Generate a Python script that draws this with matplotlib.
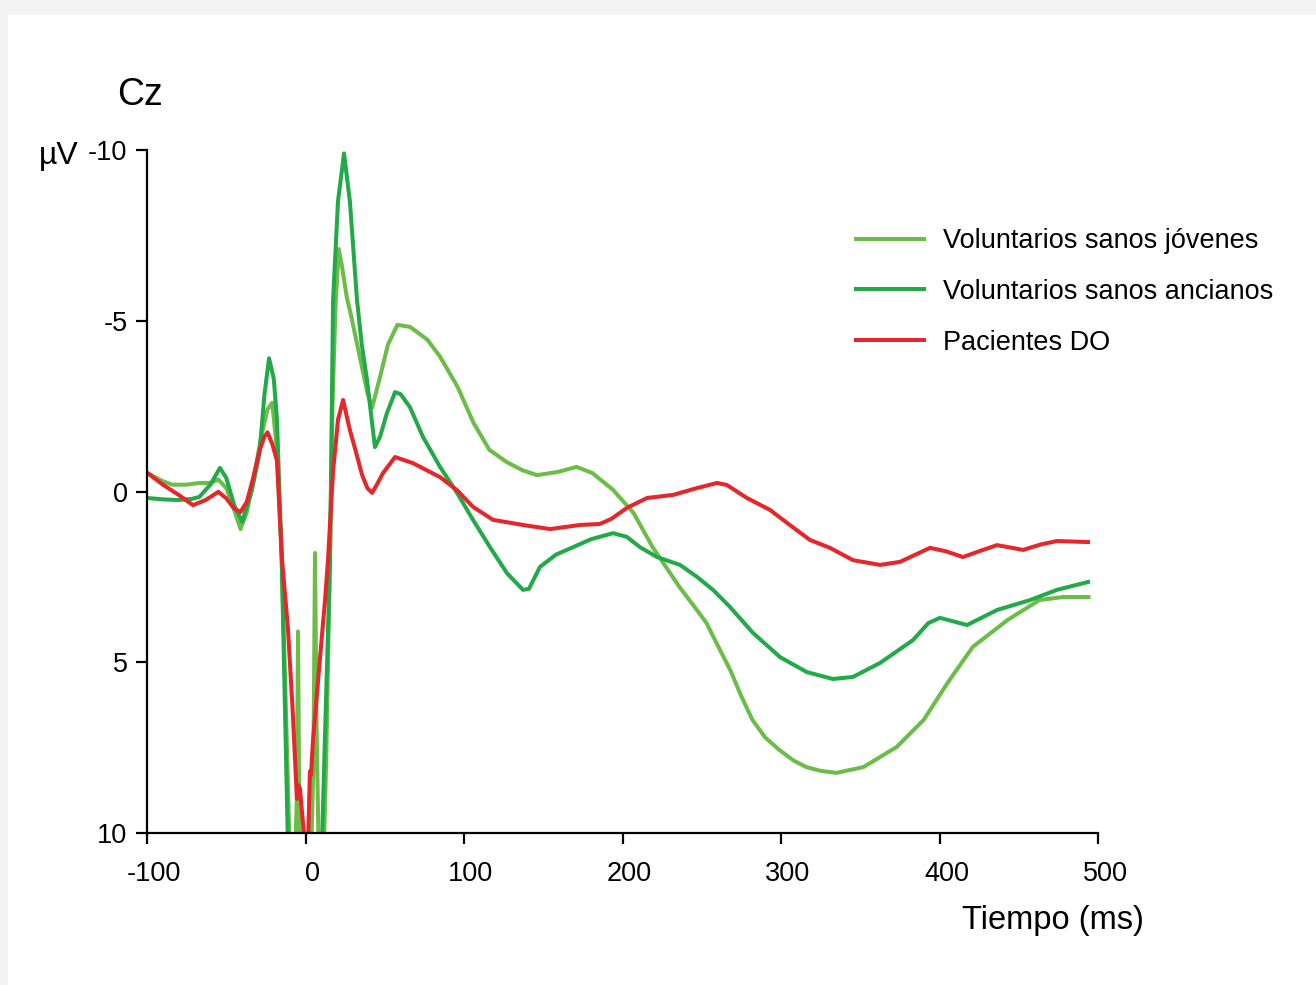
import numpy as np
import matplotlib.pyplot as plt
import matplotlib.transforms as mtransforms
from matplotlib.patches import Rectangle

plt.rcParams['font.family'] = ['Liberation Sans', 'DejaVu Sans']
plt.rcParams['axes.unicode_minus'] = False

# ERP at Cz, values in microvolts (negative up)
t_young = [-100, -90, -84, -75, -67, -60, -55, -50, -46, -41, -37, -33, -28, -24, -21,
           -18, -15, -12, -10, -7, -5.5, -4.7, -4, -3, 0, 3, 5, 6, 7, 8.5, 11, 13, 15,
           17, 19, 21, 23, 26, 29, 34, 39, 42, 47, 52, 58, 66, 77, 85, 96, 106, 116,
           127, 137, 146, 159, 171, 181, 194, 207, 219, 228, 236, 245, 253, 260, 268,
           275, 282, 290, 299, 308, 316, 325, 335, 352, 373, 390, 405, 421, 443, 463,
           478, 494]
v_young = [-0.55, -0.3, -0.2, -0.2, -0.25, -0.25, -0.35, -0.1, 0.4, 1.1, 0.6, -0.3, -1.6,
           -2.4, -2.6, -1.2, 2.0, 7.0, 10.5, 11.5, 9.0, 4.1, 9.0, 11.5, 12.0, 11.5, 8.0,
           1.8, 7.0, 11.0, 11.5, 8.0, 3.0, -2.5, -5.5, -7.1, -6.6, -5.7, -5.1, -4.0, -2.9,
           -2.45, -3.35, -4.3, -4.88, -4.82, -4.44, -3.94, -3.06, -2.01, -1.22, -0.86,
           -0.62, -0.48, -0.57, -0.72, -0.54, -0.05, 0.63, 1.63, 2.25, 2.8, 3.35, 3.85,
           4.5, 5.23, 6.0, 6.69, 7.2, 7.57, 7.88, 8.07, 8.18, 8.24, 8.07, 7.48, 6.69,
           5.61, 4.55, 3.76, 3.18, 3.09, 3.09]

t_old = [-100, -90, -81, -72, -67, -60, -54, -50, -45, -40, -34, -29, -26, -23, -20, -18,
         -15, -11, -8, 0, 8, 10.4, 13, 15.5, 17.4, 20.5, 24.3, 28, 32.5, 35.5, 38.8,
         43.8, 47, 51.4, 56.5, 60, 65.9, 74.1, 84.9, 95.6, 105.7, 116.4, 127.1, 137.2,
         141, 147.9, 158, 168.8, 180, 194, 202.8, 211, 221.8, 236.3, 247, 257.1, 267.8,
         282.3, 299.4, 316.4, 332.8, 345.4, 362.5, 383.3, 393, 400.3, 417.4, 436.3,
         457.1, 474.1, 493.7]
v_old = [0.19, 0.23, 0.25, 0.22, 0.16, -0.2, -0.69, -0.4, 0.4, 0.89, 0.0, -1.13, -2.8,
         -3.9, -3.3, -2.1, 2.0, 10.5, 12.0, 12.0, 12.0, 10.3, 6.0, 2.0, -5.6, -8.5, -9.9,
         -8.5, -5.6, -4.3, -3.27, -1.3, -1.6, -2.3, -2.91, -2.85, -2.47, -1.6, -0.72,
         0.04, 0.83, 1.63, 2.39, 2.88, 2.85, 2.21, 1.85, 1.63, 1.4, 1.22, 1.33, 1.63,
         1.92, 2.15, 2.5, 2.88, 3.38, 4.14, 4.85, 5.29, 5.49, 5.43, 5.02, 4.35, 3.85,
         3.7, 3.91, 3.47, 3.18, 2.88, 2.65]

t_do = [-100, -90, -80, -71, -63, -55, -50, -45, -41, -37, -33, -29, -26, -24, -21, -18,
        -14.8, -11, -8, -5.4, -4.5, -3.5, -2, 0, 1.5, 2.8, 3.5, 4.7, 9.1, 12.3, 14.2,
        17.4, 20.5, 23.7, 28, 31, 35.6, 39, 42, 45, 48.9, 56.5, 67.8, 84.9, 95.6, 105.7,
        118.3, 137.2, 154.3, 173.2, 185.8, 193, 202.8, 215.5, 231.9, 247, 259.6, 265.9,
        278.5, 293.1, 303.8, 318.3, 330.9, 345.4, 362.5, 375.1, 394, 404, 414.8, 425,
        436.3, 452.7, 464, 474.1, 493.7]
v_do = [-0.55, -0.2, 0.1, 0.4, 0.25, 0.01, 0.2, 0.5, 0.6, 0.3, -0.4, -1.2, -1.6, -1.73,
        -1.4, -0.9, 2.0, 4.06, 6.5, 9.0, 8.6, 8.7, 9.5, 10.5, 10.5, 8.2, 8.3, 7.3, 4.9,
        3.2, 2.0, -0.6, -2.1, -2.68, -1.8, -1.3, -0.5, -0.1, 0.04, -0.2, -0.54, -1.01,
        -0.83, -0.42, -0.04, 0.45, 0.83, 0.98, 1.1, 0.98, 0.95, 0.8, 0.48, 0.19, 0.1,
        -0.1, -0.25, -0.19, 0.19, 0.54, 0.92, 1.42, 1.65, 2.01, 2.15, 2.06, 1.65, 1.75,
        1.92, 1.75, 1.57, 1.71, 1.55, 1.45, 1.48]

labels = ['Voluntarios sanos jóvenes', 'Voluntarios sanos ancianos', 'Pacientes DO']
colors = ['#6cbd48', '#22aa48', '#e5262a']
x_ticks = [-100, 0, 100, 200, 300, 400, 500]
y_ticks = [-10, -5, 0, 5, 10]

fig = plt.figure(figsize=(13.16, 9.85), dpi=100)
fig.patch.set_facecolor('#f3f3f3')
fig.patches.append(Rectangle((8 / 1316, 0), 1, 1 - 15 / 985, transform=fig.transFigure,
                             facecolor='white', edgecolor='none', zorder=-10))

ax = fig.add_axes([147 / 1316, 1 - 833 / 985, 951 / 1316, 683 / 985])
ax.patch.set_alpha(0)

ax.plot(t_young, v_young, color=colors[0], lw=2.9, label=labels[0], solid_joinstyle='round')
ax.plot(t_old, v_old, color=colors[1], lw=2.9, label=labels[1], solid_joinstyle='round')
ax.plot(t_do, v_do, color=colors[2], lw=2.9, label=labels[2], solid_joinstyle='round')

ax.set_xlim(-100, 500)
ax.set_ylim(10, -10)
ax.set_xticks(x_ticks)
ax.set_yticks(y_ticks)
ax.spines['top'].set_visible(False)
ax.spines['right'].set_visible(False)
for s in ['left', 'bottom']:
    ax.spines[s].set_linewidth(1.6)
ax.tick_params(direction='out', length=8, width=1.6, labelsize=19.5)
ax.tick_params(axis='x', pad=12)
ax.tick_params(axis='y', pad=6)

offset = mtransforms.ScaledTranslation(7 / 100, 0, fig.dpi_scale_trans)
for lab in ax.get_xticklabels():
    lab.set_transform(lab.get_transform() + offset)

fig.text(117 / 1316, 1 - 95 / 985, 'Cz', fontsize=27, va='center', ha='left')
fig.text(39 / 1316, 1 - 156 / 985, 'µV', fontsize=23, va='center', ha='left')
fig.text(1053 / 1316, 1 - 921 / 985, 'Tiempo (ms)', fontsize=23.5, va='center', ha='center')

ax.legend(loc='upper left', bbox_to_anchor=(856 / 1316, 1 - 228 / 985),
          bbox_transform=fig.transFigure, frameon=False, fontsize=19.5,
          handlelength=2.5, handletextpad=0.7, labelspacing=0.92, borderpad=0,
          borderaxespad=0)

fig.savefig('out.png', dpi=100)
